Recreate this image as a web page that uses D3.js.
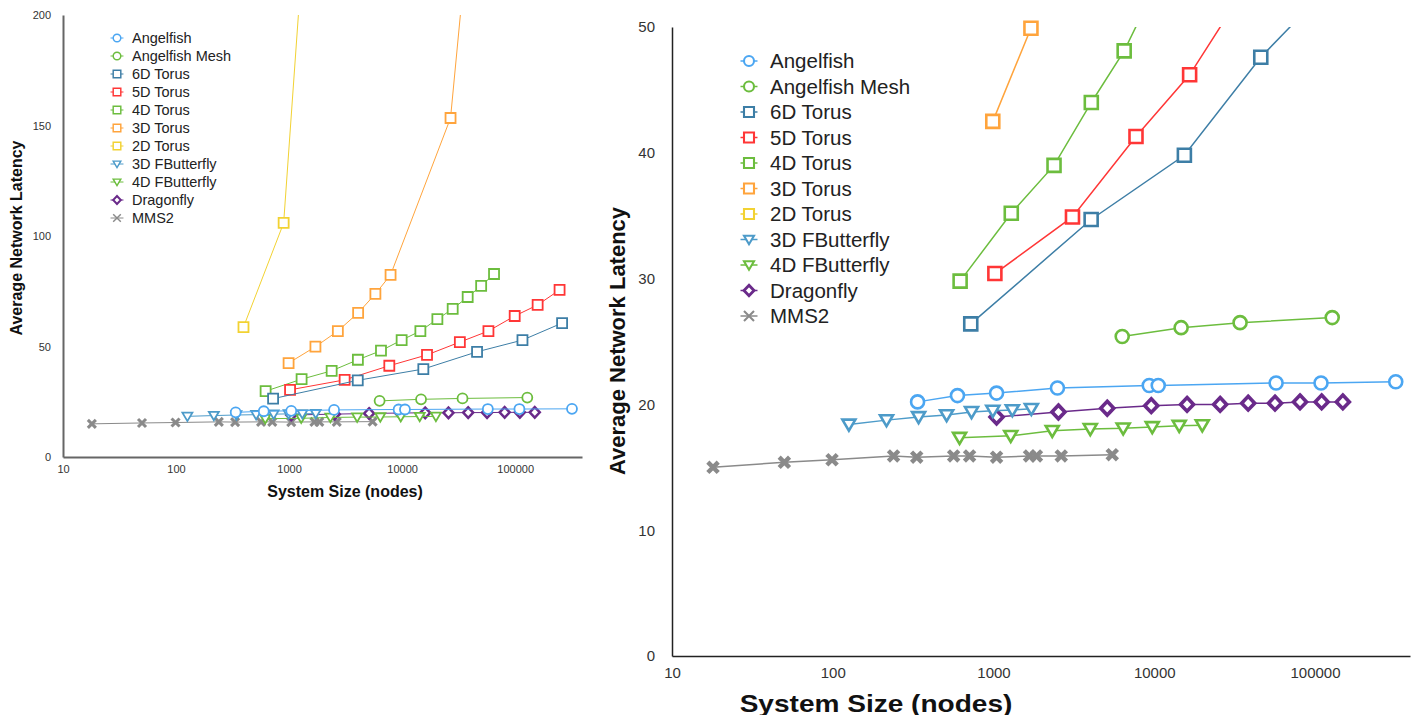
<!DOCTYPE html>
<html>
<head>
<meta charset="utf-8">
<script src="https://cdn.jsdelivr.net/npm/d3@7"></script>
<style>
  body { margin: 0; background: #fff; }
  text { font-family: "Liberation Sans", Arial, Helvetica, sans-serif; }
</style>
</head>
<body>
<div id="chart"></div>
<script>
// data (system size in nodes, average latency)
const seriesNames = ["Angelfish", "Angelfish Mesh", "6D Torus", "5D Torus", "4D Torus",
  "3D Torus", "2D Torus", "3D FButterfly", "4D FButterfly", "Dragonfly", "MMS2"];
const seriesColors = ["#4ba6f2", "#6cbd3e", "#3d7ea6", "#ff3636", "#6cbd3e",
  "#ffa43c", "#f2d232", "#4d9bc9", "#6cbd3e", "#6a2a8a", "#8a8a8a"];
const seriesShapes = ["circle", "circle", "square", "square", "square",
  "square", "square", "triangle", "triangle", "diamond", "times"];

const angelfishSize = [337, 597, 1045, 2500, 9310, 10590, 57300, 109000, 318000];
const angelfishLatency = [20.2, 20.7, 20.9, 21.3, 21.5, 21.5, 21.7, 21.7, 21.8];

const meshSize = [6320, 14700, 34200, 128000];
const meshLatency = [25.4, 26.1, 26.5, 26.9];

const torus6Size = [722, 4050, 15400, 46000, 116000, 260000];
const torus6Latency = [26.4, 34.7, 39.8, 47.6, 52.9, 60.6];

const torus5Size = [1020, 3100, 7700, 16600, 32400, 58000, 99000, 158000, 247000];
const torus5Latency = [30.4, 34.9, 41.3, 46.2, 52.0, 57.0, 63.8, 68.8, 75.6];

const torus4Size = [620, 1290, 2380, 4060, 6500, 9900, 14500, 20500, 28000, 38000, 50000, 65000];
const torus4Latency = [29.8, 35.2, 39.0, 44.0, 48.1, 52.9, 57.0, 62.4, 67.0, 72.4, 77.4, 82.8];

const torus3Size = [990, 1710, 2700, 4080, 5800, 7900, 26800, 64000];
const torus3Latency = [42.5, 49.9, 57.0, 65.2, 73.8, 82.4, 153.4, 356];

const torus2Size = [395, 895, 1600];
const torus2Latency = [58.8, 105.9, 288];

const fb3Size = [126, 216, 342, 511, 730, 990, 1310, 1720];
const fb3Latency = [18.4, 18.75, 19.0, 19.15, 19.4, 19.5, 19.55, 19.65];

const fb4Size = [615, 1280, 2320, 4000, 6410, 9720, 14300, 19900];
const fb4Latency = [17.35, 17.5, 17.9, 18.05, 18.1, 18.2, 18.3, 18.35];

const dragonflySize = [1045, 2535, 5100, 9580, 16000, 25700, 38400, 56400, 80700, 110000, 149000];
const dragonflyLatency = [19.0, 19.4, 19.7, 19.9, 20.0, 20.0, 20.1, 20.1, 20.2, 20.2, 20.2];

const mmsSize = [18, 50, 99, 239, 333, 565, 710, 1045, 1675, 1850, 2640, 5480];
const mmsLatency = [15.0, 15.4, 15.6, 15.9, 15.8, 15.9, 15.9, 15.8, 15.9, 15.9, 15.9, 16.0];

const xTicks = [10, 100, 1000, 10000, 100000];
const leftYTicks = [0, 50, 100, 150, 200];
const rightYTicks = [0, 10, 20, 30, 40, 50];

const allSizes = [angelfishSize, meshSize, torus6Size, torus5Size, torus4Size, torus3Size,
  torus2Size, fb3Size, fb4Size, dragonflySize, mmsSize];
const allLatency = [angelfishLatency, meshLatency, torus6Latency, torus5Latency, torus4Latency,
  torus3Latency, torus2Latency, fb3Latency, fb4Latency, dragonflyLatency, mmsLatency];

const series = seriesNames.map((name, i) => ({
  name,
  color: seriesColors[i],
  shape: seriesShapes[i],
  points: allSizes[i].map((s, j) => ({ x: s, y: allLatency[i][j] }))
}));

const svg = d3.select("#chart").append("svg")
  .attr("width", 1419)
  .attr("height", 715);

// marker outline for a given half size
function markerPath(shape, s) {
  if (shape === "square") return `M${-s},${-s}H${s}V${s}H${-s}Z`;
  if (shape === "triangle") return `M${-s},${-s * 0.75}H${s}L0,${s * 0.95}Z`;
  if (shape === "diamond") return `M0,${-s * 1.05}L${s},0L0,${s * 1.05}L${-s},0Z`;
  if (shape === "times") return `M${-s},${-s}L${s},${s}M${s},${-s}L${-s},${s}`;
  return d3.arc()({ innerRadius: 0, outerRadius: s, startAngle: 0, endAngle: 2 * Math.PI });
}

function drawPanel(o) {
  const x = d3.scaleLog().domain([10, 390000]).range([o.left, o.right]);
  const y = d3.scaleLinear().domain([0, o.yMax]).range([o.bottom, o.top]);
  const g = svg.append("g");

  g.append("clipPath").attr("id", o.id)
    .append("rect")
    .attr("x", o.left).attr("y", o.top)
    .attr("width", o.right - o.left).attr("height", o.bottom - o.top);

  // axes, no tick marks
  const xAxis = g.append("g")
    .attr("transform", `translate(0,${o.bottom})`)
    .call(d3.axisBottom(x).tickValues(xTicks).tickFormat(d3.format("d")).tickSize(0).tickPadding(o.xPad));
  const yAxis = g.append("g")
    .attr("transform", `translate(${o.left},0)`)
    .call(d3.axisLeft(y).tickValues(o.yTicks).tickSize(0).tickPadding(o.yPad));
  [xAxis, yAxis].forEach(a => {
    a.select(".domain").attr("stroke", o.axisColor).attr("stroke-width", o.axisWidth);
    a.selectAll("text").attr("font-size", o.tickFont).attr("fill", "#333")
      .attr("font-family", "'Liberation Sans', Arial, sans-serif");
  });

  g.append("text")
    .attr("transform", `translate(${o.xTitleX},${o.xTitleY}) scale(${o.xTitleStretch},1)`)
    .attr("text-anchor", "middle")
    .attr("font-weight", "bold")
    .attr("font-size", o.xTitleFont)
    .attr("fill", "#111")
    .text("System Size (nodes)");

  g.append("text")
    .attr("transform", `translate(${o.yTitleX},${o.yTitleY}) rotate(-90)`)
    .attr("text-anchor", "middle")
    .attr("font-weight", "bold")
    .attr("font-size", o.yTitleFont)
    .attr("fill", "#111")
    .text("Average Network Latency");

  const line = d3.line().x(d => x(d.x)).y(d => y(d.y));

  // draw in reverse so Angelfish ends on top
  series.slice().reverse().forEach(s => {
    const sg = g.append("g");
    sg.append("path")
      .attr("clip-path", `url(#${o.id})`)
      .attr("d", line(s.points))
      .attr("fill", "none")
      .attr("stroke", s.color)
      .attr("stroke-width", o.lineWidth);
    sg.selectAll(".pt")
      .data(s.points.filter(p => p.y <= o.yMax))
      .enter().append("path")
      .attr("class", "pt")
      .attr("transform", d => `translate(${x(d.x)},${y(d.y)})`)
      .attr("d", markerPath(s.shape, s.shape === "times" ? o.mark * 0.8 : o.mark))
      .attr("fill", s.shape === "times" ? "none" : "#fff")
      .attr("stroke", s.color)
      .attr("stroke-width", s.shape === "times" ? o.markStroke * 1.7 : (s.shape === "diamond" ? o.markStroke * 1.4 : o.markStroke));
  });

  // legend
  const leg = g.append("g");
  series.forEach((s, i) => {
    const ly = o.legY + i * o.legStep;
    leg.append("line")
      .attr("x1", o.legX - o.legMark * 1.7).attr("x2", o.legX + o.legMark * 1.7)
      .attr("y1", ly).attr("y2", ly)
      .attr("stroke", s.color).attr("stroke-width", o.lineWidth);
    leg.append("path")
      .attr("transform", `translate(${o.legX},${ly})`)
      .attr("d", markerPath(s.shape, o.legMark))
      .attr("fill", s.shape === "times" ? "none" : "#fff")
      .attr("stroke", s.color)
      .attr("stroke-width", s.shape === "diamond" ? o.markStroke * 1.1 : o.markStroke * 0.8);
    leg.append("text")
      .attr("x", o.legTextX)
      .attr("y", ly)
      .attr("dy", "0.36em")
      .attr("font-size", o.legFont)
      .attr("fill", "#222")
      .text(s.name);
  });
}

drawPanel({
  id: "clipL", left: 63, right: 582, top: 15, bottom: 457, yMax: 200, yTicks: leftYTicks,
  xPad: 8, yPad: 12, tickFont: 11, axisColor: "#666", axisWidth: 2,
  xTitleFont: 16, xTitleX: 345, xTitleY: 497, xTitleStretch: 1,
  yTitleFont: 16, yTitleX: 22, yTitleY: 238,
  lineWidth: 1, mark: 5, markStroke: 1.8,
  legX: 117, legTextX: 132, legY: 38, legStep: 18, legMark: 3.8, legFont: 14.5
});

drawPanel({
  id: "clipR", left: 672, right: 1410, top: 27, bottom: 656, yMax: 50, yTicks: rightYTicks,
  xPad: 11, yPad: 17, tickFont: 15, axisColor: "#222", axisWidth: 1.5,
  xTitleFont: 23, xTitleX: 876, xTitleY: 712, xTitleStretch: 1.22,
  yTitleFont: 22, yTitleX: 625, yTitleY: 341,
  lineWidth: 1.5, mark: 6.5, markStroke: 2.6,
  legX: 749, legTextX: 770, legY: 61, legStep: 25.5, legMark: 5, legFont: 20.5
});
</script>
</body>
</html>
